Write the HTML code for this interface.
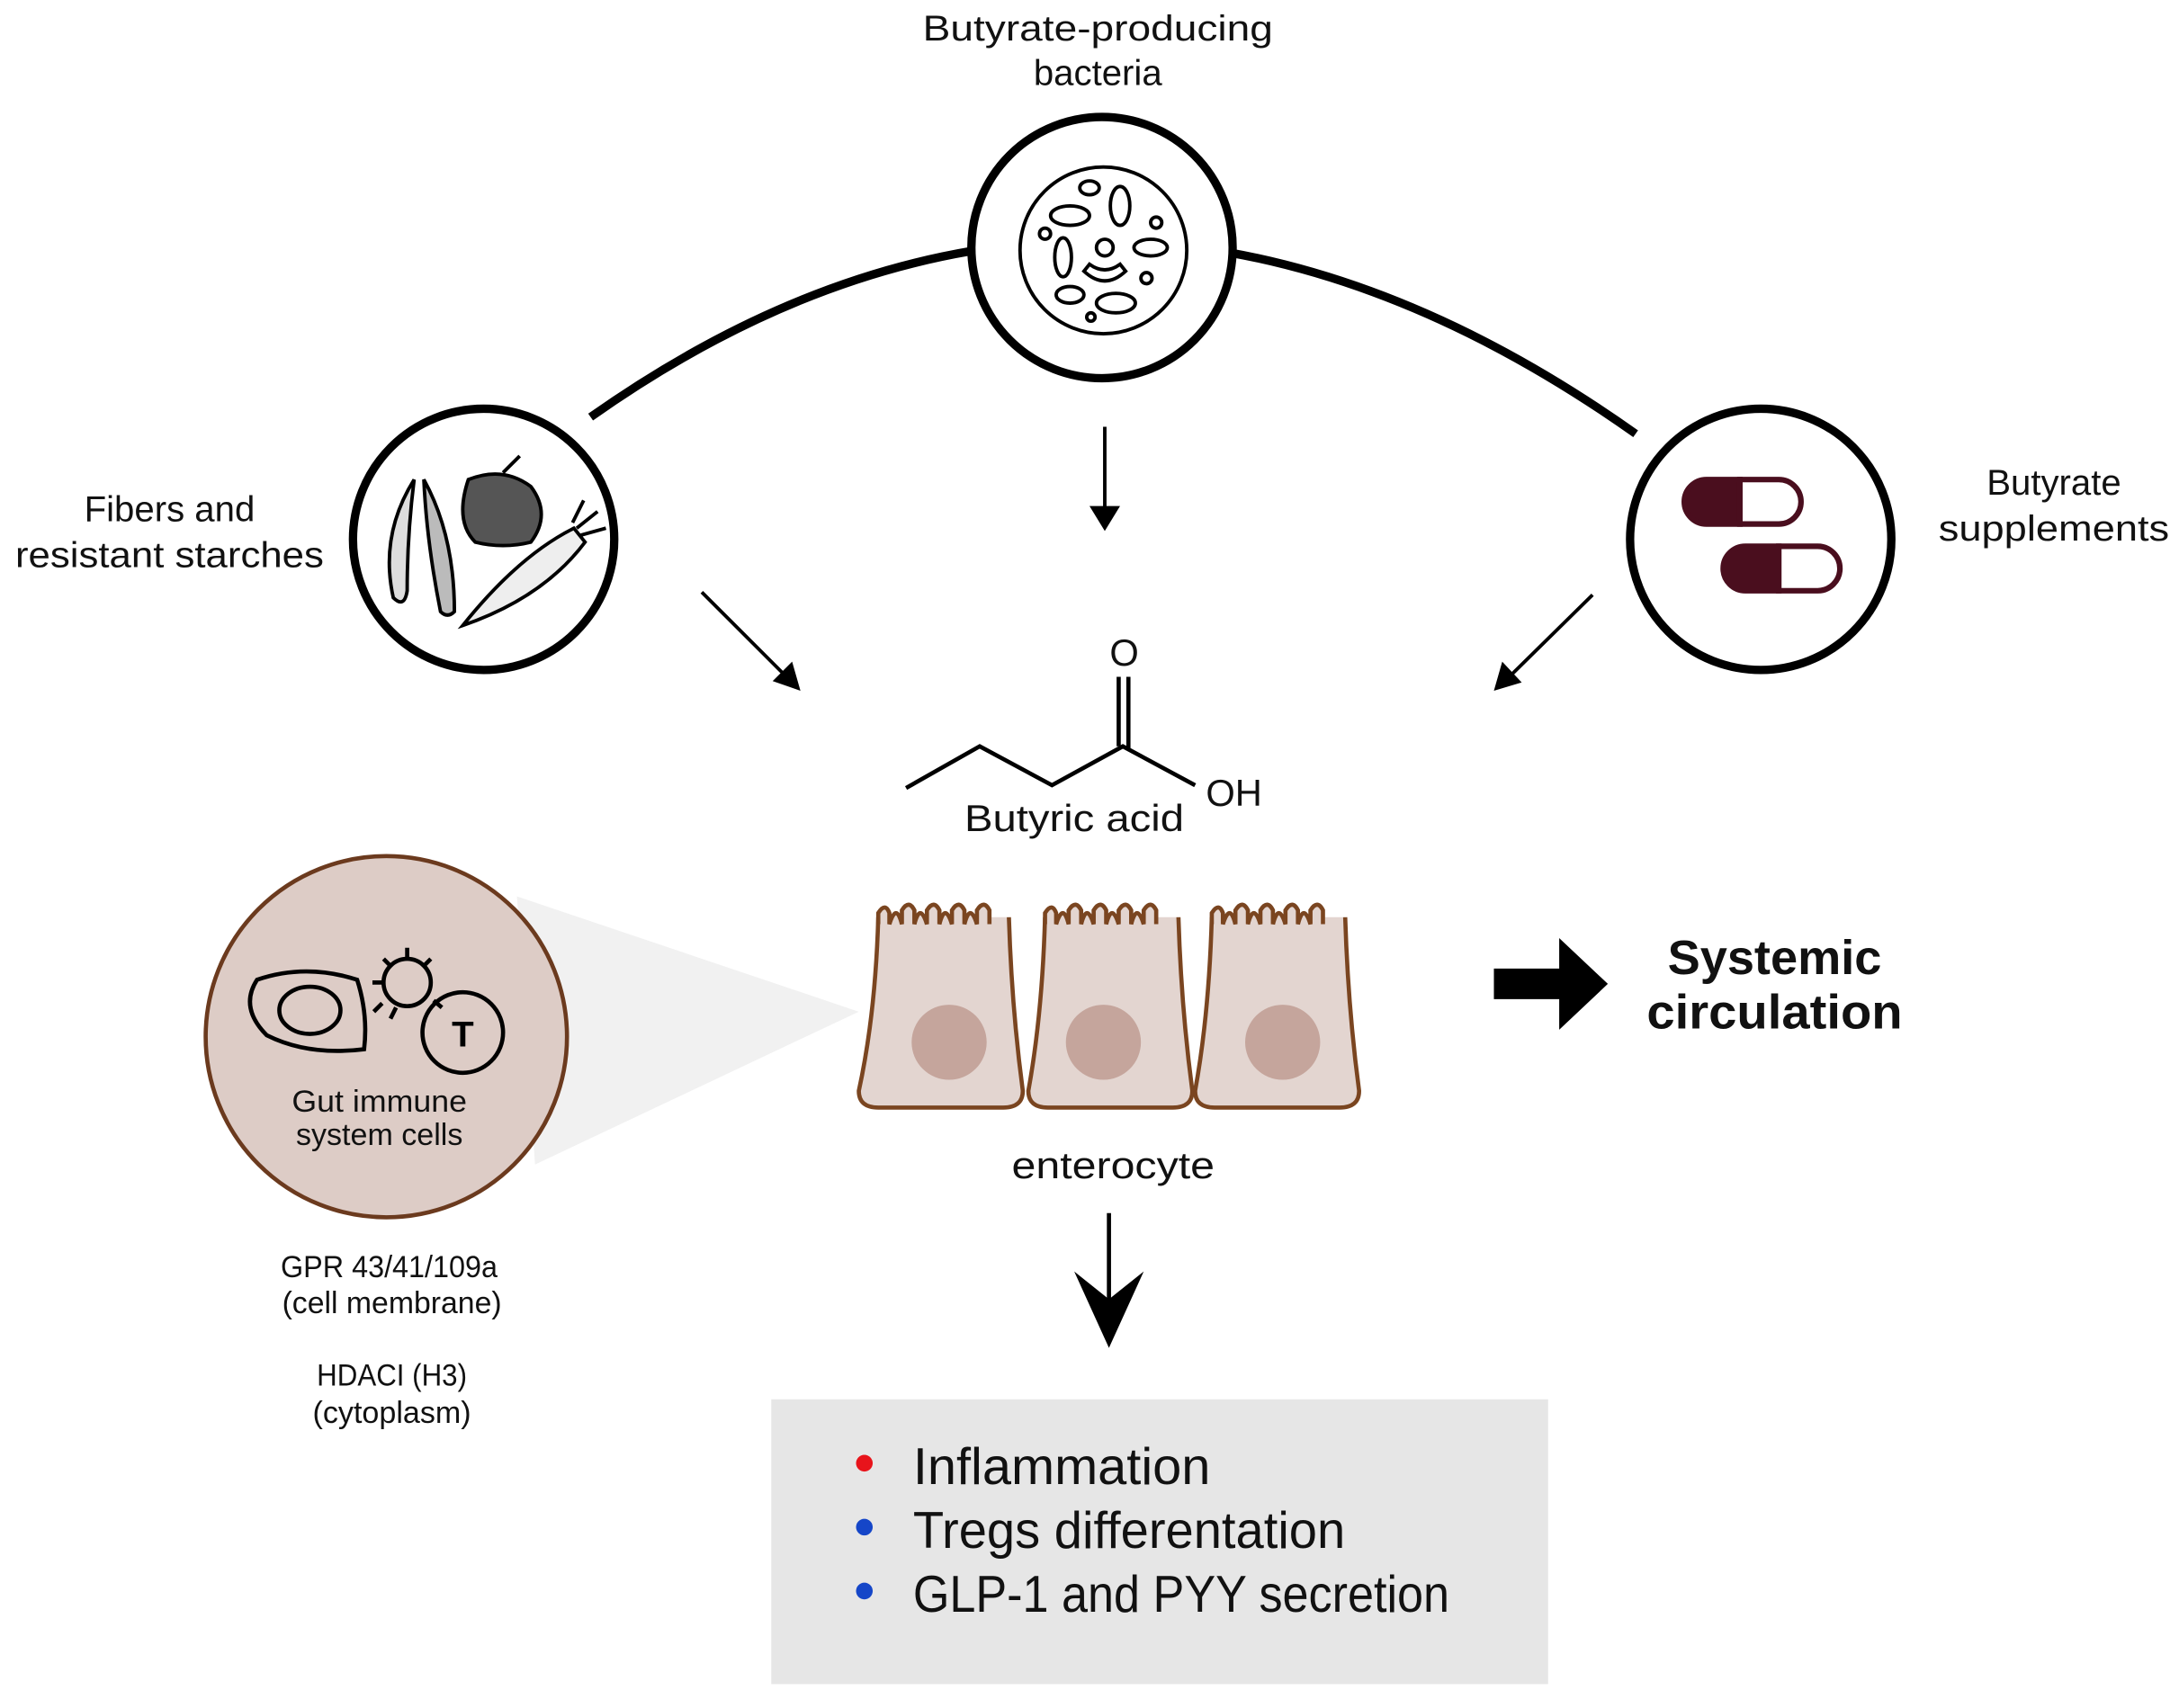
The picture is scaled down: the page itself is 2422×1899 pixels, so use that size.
<!DOCTYPE html>
<html><head><meta charset="utf-8"><style>html,body{margin:0;padding:0;background:#fff}svg{display:block}</style></head>
<body>
<svg width="2422" height="1899" viewBox="0 0 1568 1229" xmlns="http://www.w3.org/2000/svg" font-family="Liberation Sans, sans-serif">
<rect width="1568" height="1229" fill="#fff"/>
<path d="M425,300 Q793,40 1177,312" fill="none" stroke="#000" stroke-width="6"/>
<polygon points="372,645 618,728 385,838" fill="#f1f1f1"/>
<circle cx="793" cy="178" r="94" fill="#fff" stroke="#000" stroke-width="6"/>
<circle cx="348" cy="388" r="94" fill="#fff" stroke="#000" stroke-width="6"/>
<circle cx="1267" cy="388" r="94" fill="#fff" stroke="#000" stroke-width="6"/>
<g fill="none" stroke="#000" stroke-width="2.5">
<circle cx="794" cy="180" r="60"/>
<ellipse cx="770" cy="155" rx="14" ry="7"/><ellipse cx="806" cy="148" rx="7" ry="14"/>
<ellipse cx="765" cy="185" rx="6" ry="14"/><path d="M780,195 q15,14 30,0 l-4,-5 q-11,8 -22,0z"/>
<ellipse cx="828" cy="178" rx="12" ry="6"/><ellipse cx="770" cy="212" rx="10" ry="6"/>
<ellipse cx="803" cy="218" rx="14" ry="7"/><ellipse cx="784" cy="135" rx="7" ry="5"/>
<circle cx="832" cy="160" r="4"/><circle cx="752" cy="168" r="4"/><circle cx="795" cy="178" r="6"/><circle cx="825" cy="200" r="4"/><circle cx="785" cy="228" r="3"/>
</g>
<g fill="none" stroke="#000" stroke-width="2.5">
<path d="M298,345 q-25,40 -15,85 q8,8 10,-5 q0,-40 5,-80z" fill="#ddd"/>
<path d="M305,345 q22,40 22,95 q-5,5 -10,0 q-10,-50 -12,-95z" fill="#bbb"/>
<path d="M337,345 q-10,30 5,45 q20,5 40,0 q15,-20 0,-40 q-20,-15 -45,-5z" fill="#555"/>
<path d="M362,340 l12,-12" />
<path d="M333,450 q40,-50 80,-70 l8,10 q-30,40 -88,60z" fill="#eee"/>
<path d="M415,380 l15,-12 M418,385 l18,-5 M412,376 l8,-16"/>
</g>
<g stroke="#4a0e1e" stroke-width="4">
<path d="M1252,345 h-24 a16,16 0 0 0 0,32 h24z" fill="#4a0e1e"/>
<path d="M1252,345 h28 a16,16 0 0 1 0,32 h-28z" fill="#fff"/>
<path d="M1280,393 h-24 a16,16 0 0 0 0,32 h24z" fill="#4a0e1e"/>
<path d="M1280,393 h28 a16,16 0 0 1 0,32 h-28z" fill="#fff"/>
</g>
<g font-size="26" fill="#111" text-anchor="middle">
<text x="790" y="29" textLength="252" lengthAdjust="spacingAndGlyphs">Butyrate-producing</text>
<text x="790" y="61">bacteria</text>
<text x="122" y="375">Fibers and</text>
<text x="122" y="408" textLength="222" lengthAdjust="spacingAndGlyphs">resistant starches</text>
<text x="1478" y="356">Butyrate</text>
<text x="1478" y="389" textLength="166" lengthAdjust="spacingAndGlyphs">supplements</text>
</g>
<g stroke="#000" stroke-width="2.5" fill="#000">
<line x1="795" y1="307" x2="795" y2="370"/>
<polygon points="784,364 806,364 795,382" stroke="none"/>
<line x1="505" y1="426" x2="566" y2="487"/>
<polygon points="556,490 570,476 576,497" stroke="none"/>
<line x1="1146" y1="428" x2="1085" y2="488"/>
<polygon points="1081,476 1095,491 1075,497" stroke="none"/>
</g>
<g fill="none" stroke="#000" stroke-width="3">
<polyline points="652,567 705,537 757,565 808,537 860,565"/>
<line x1="805" y1="537" x2="805" y2="487"/><line x1="812" y1="540" x2="812" y2="487"/>
</g>
<g font-size="27" fill="#111" text-anchor="middle">
<text x="809" y="479">O</text>
<text x="888" y="580">OH</text>
<text x="773" y="598" textLength="158" lengthAdjust="spacingAndGlyphs">Butyric acid</text>
<text x="801" y="848" textLength="146" lengthAdjust="spacingAndGlyphs">enterocyte</text>
</g>
<circle cx="278" cy="746" r="130" fill="#ddccc6" stroke="#6b3a1e" stroke-width="3"/>
<g fill="none" stroke="#000" stroke-width="3">
<path d="M185,705 q35,-12 72,0 q8,25 5,50 q-40,5 -70,-10 q-20,-20 -7,-40z"/>
<ellipse cx="223" cy="727" rx="22" ry="17"/>
<circle cx="293" cy="707" r="17"/>
<path d="M293,682 v7 M310,690 l-5,5 M276,690 l5,5 M268,707 h7 M312,720 l6,5 M275,722 l-6,6 M285,725 l-4,8"/>
<circle cx="333" cy="743" r="29"/>
</g>
<text x="333" y="753" font-size="26" font-weight="bold" text-anchor="middle">T</text>
<g font-size="22" fill="#111" text-anchor="middle">
<text x="273" y="800" textLength="126" lengthAdjust="spacingAndGlyphs">Gut immune</text>
<text x="273" y="824" textLength="120" lengthAdjust="spacingAndGlyphs">system cells</text>
<text x="280" y="919" textLength="156" lengthAdjust="spacingAndGlyphs">GPR 43/41/109a</text>
<text x="282" y="945" textLength="158" lengthAdjust="spacingAndGlyphs">(cell membrane)</text>
<text x="282" y="997" textLength="108" lengthAdjust="spacingAndGlyphs">HDACI (H3)</text>
<text x="282" y="1024" textLength="114" lengthAdjust="spacingAndGlyphs">(cytoplasm)</text>
</g>
<g fill="#e3d5d0" stroke="#7a4520" stroke-width="3">
<path d="M632,660 q-2,70 -14,125 q0,12 14,12 h90 q14,0 14,-12 q-8,-60 -10,-125"/>
<path d="M752,660 q-2,70 -12,125 q0,12 14,12 h90 q14,0 14,-12 q-8,-60 -10,-125"/>
<path d="M872,660 q-2,70 -12,125 q0,12 14,12 h90 q14,0 14,-12 q-8,-60 -10,-125"/>
</g>
<g fill="#e3d5d0" stroke="#7a4520" stroke-width="3">
<path d="M632,665 v-8 q5,-8 8,0 v8 q5,-16 9,0 v-10 q5,-8 9,0 v10 q4,-16 9,0 v-10 q5,-8 9,0 v10 q4,-16 9,0 v-10 q5,-8 9,0 v10 q4,-16 9,0 v-10 q5,-8 9,0 v10"/>
<path d="M752,665 v-8 q5,-8 8,0 v8 q5,-16 9,0 v-10 q5,-8 9,0 v10 q4,-16 9,0 v-10 q5,-8 9,0 v10 q4,-16 9,0 v-10 q5,-8 9,0 v10 q4,-16 9,0 v-10 q5,-8 9,0 v10"/>
<path d="M872,665 v-8 q5,-8 8,0 v8 q5,-16 9,0 v-10 q5,-8 9,0 v10 q4,-16 9,0 v-10 q5,-8 9,0 v10 q4,-16 9,0 v-10 q5,-8 9,0 v10 q4,-16 9,0 v-10 q5,-8 9,0 v10"/>
</g>
<g fill="#c5a59c"><circle cx="683" cy="750" r="27"/><circle cx="794" cy="750" r="27"/><circle cx="923" cy="750" r="27"/></g>
<polygon points="1075,697 1122,697 1122,675 1157,708 1122,741 1122,719 1075,719" fill="#000"/>
<g font-size="35" font-weight="bold" text-anchor="middle" fill="#111">
<text x="1277" y="701" textLength="154" lengthAdjust="spacingAndGlyphs">Systemic</text>
<text x="1277" y="740" textLength="184" lengthAdjust="spacingAndGlyphs">circulation</text>
</g>
<line x1="798" y1="873" x2="798" y2="935" stroke="#000" stroke-width="3"/>
<polygon points="773,915 798,935 823,915 798,970" fill="#000"/>
<rect x="555" y="1007" width="559" height="205" fill="#e6e6e6"/>
<circle cx="622" cy="1053" r="6" fill="#e8141b"/>
<circle cx="622" cy="1099" r="6" fill="#1546c8"/>
<circle cx="622" cy="1145" r="6" fill="#1546c8"/>
<g font-size="37" fill="#111">
<text x="657" y="1068" textLength="214" lengthAdjust="spacingAndGlyphs">Inflammation</text>
<text x="657" y="1114" textLength="311" lengthAdjust="spacingAndGlyphs">Tregs differentation</text>
<text x="657" y="1160" textLength="386" lengthAdjust="spacingAndGlyphs">GLP-1 and PYY secretion</text>
</g>
</svg>
</body></html>
